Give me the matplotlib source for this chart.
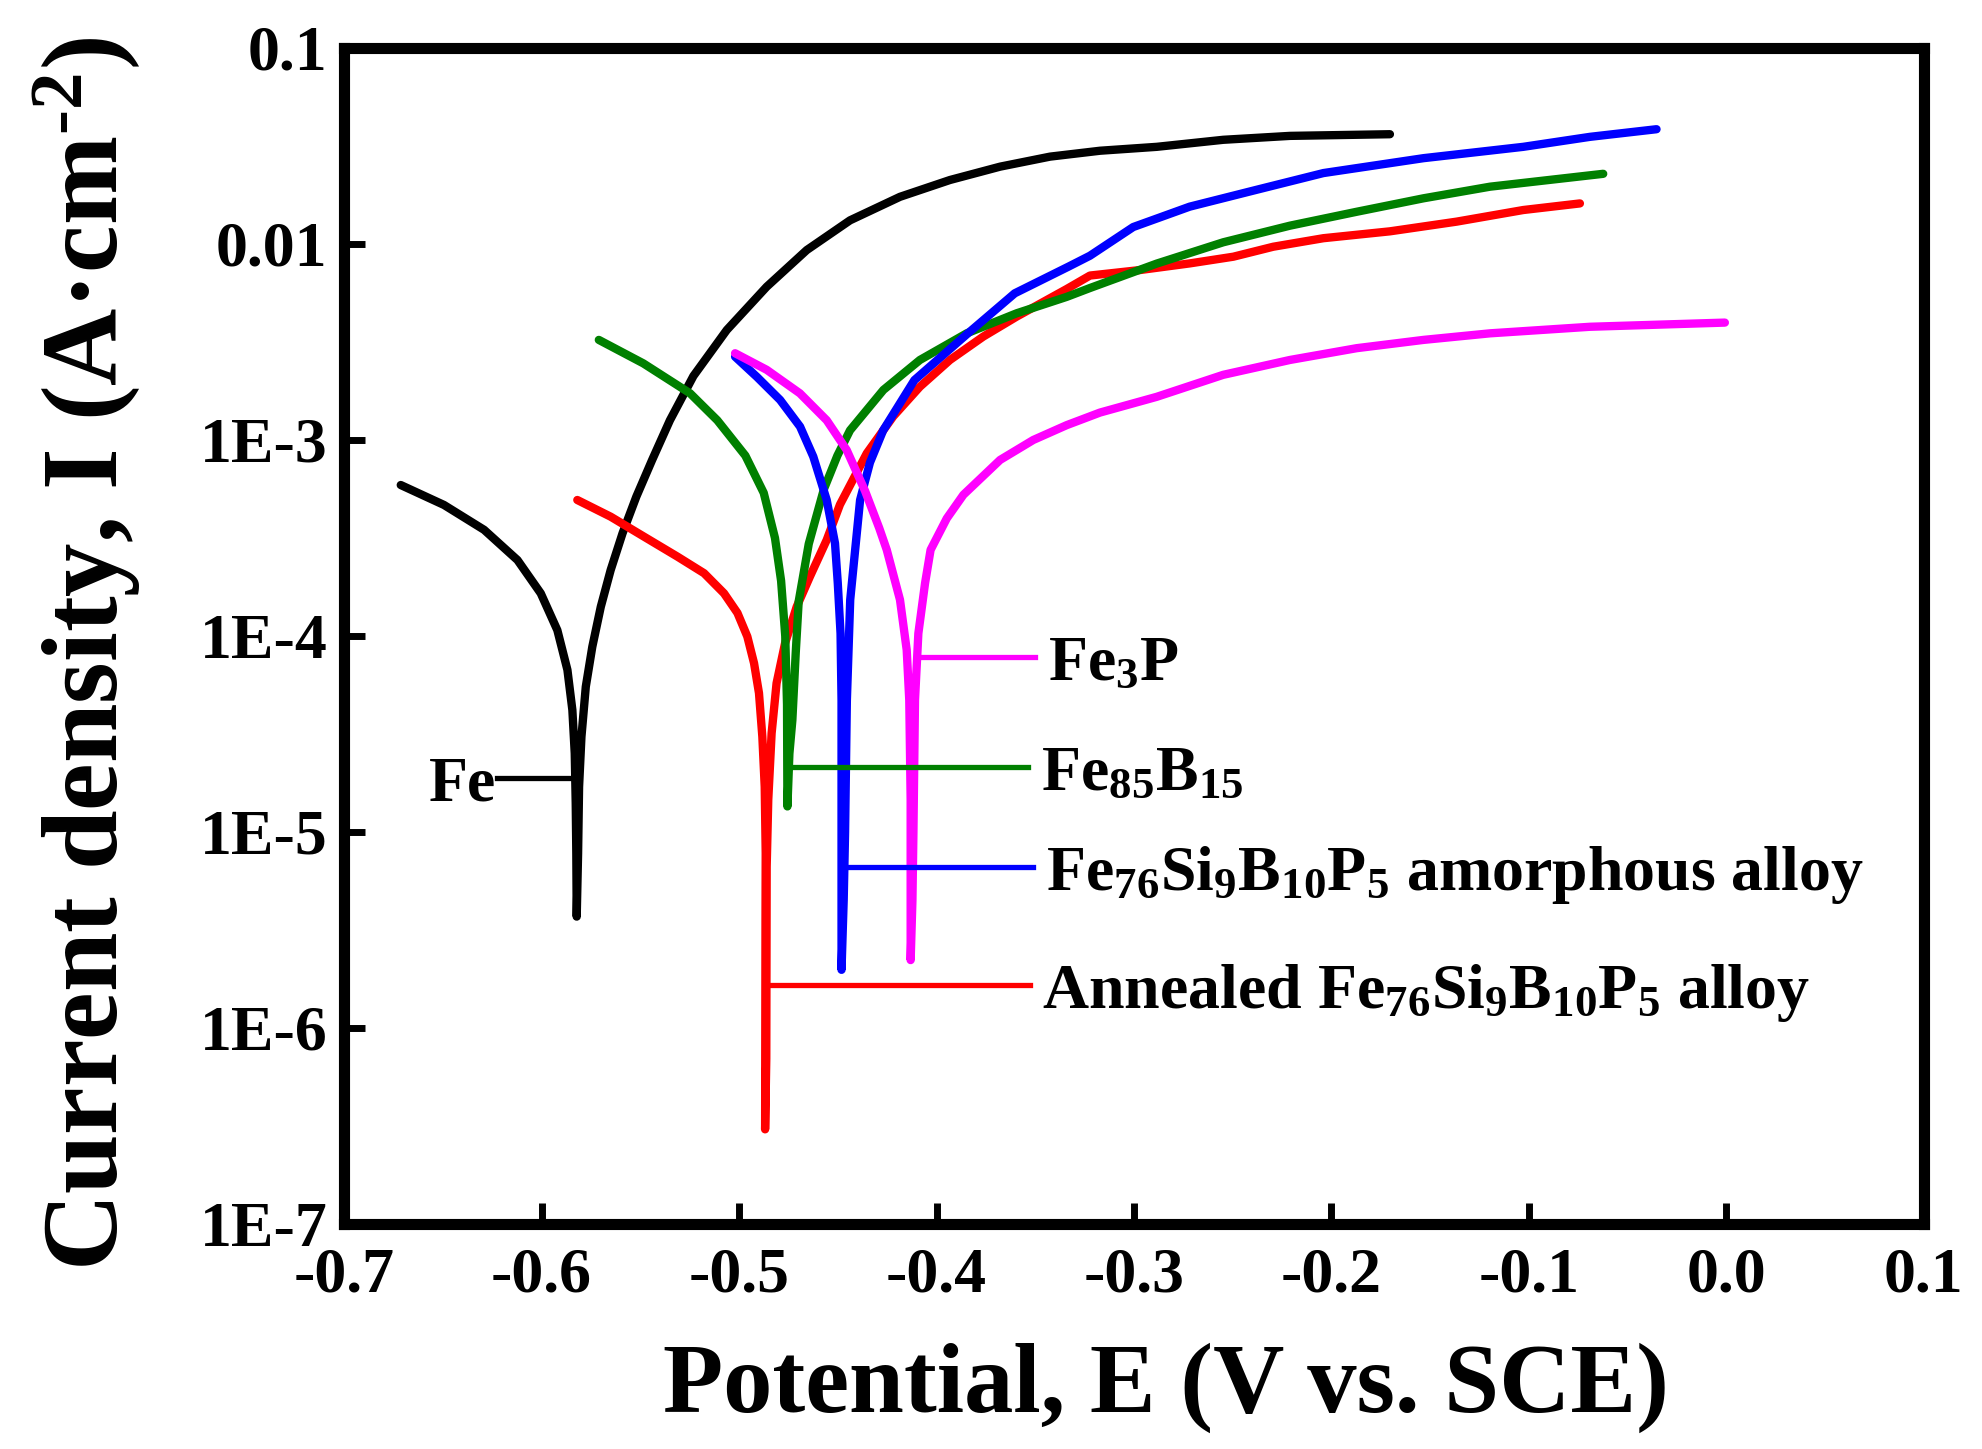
import matplotlib
matplotlib.use("Agg")
import matplotlib.pyplot as plt
from matplotlib.ticker import FixedLocator, FixedFormatter, NullLocator

plt.rcParams['font.family'] = ['Liberation Serif', 'DejaVu Serif']
plt.rcParams['font.weight'] = 'bold'
plt.rcParams['mathtext.fontset'] = 'custom'
plt.rcParams['mathtext.rm'] = 'Liberation Serif:bold'
plt.rcParams['mathtext.it'] = 'Liberation Serif:bold'
plt.rcParams['mathtext.bf'] = 'Liberation Serif:bold'

# Potentiodynamic polarization curves
# potential in V vs. SCE, current density in A/cm^2
fe_e = [-0.6713, -0.6494, -0.6291, -0.6122, -0.6004, -0.592, -0.5869, -0.5844, -0.5832, -0.5827,
        -0.5824, -0.5822,
        -0.5815, -0.581, -0.5798, -0.5776, -0.5743, -0.570, -0.565, -0.559, -0.552, -0.544,
        -0.535, -0.5231, -0.5062, -0.486, -0.4657, -0.4438, -0.4185, -0.3932, -0.3678, -0.3425,
        -0.3172, -0.2885, -0.2548, -0.221, -0.1704]
fe_i = [5.89e-4, 4.66e-4, 3.48e-4, 2.44e-4, 1.65e-4, 1.07e-4, 6.71e-5, 4.19e-5, 2.52e-5, 1.40e-5,
        7.78e-6, 3.70e-6,
        7.78e-6, 1.70e-5, 3.06e-5, 5.51e-5, 8.81e-5, 1.41e-4, 2.17e-4, 3.34e-4, 5.14e-4, 7.91e-4,
        1.26e-3, 2.12e-3, 3.64e-3, 6.05e-3, 9.31e-3, 1.32e-2, 1.74e-2, 2.12e-2, 2.48e-2, 2.79e-2,
        2.99e-2, 3.13e-2, 3.40e-2, 3.56e-2, 3.63e-2]

fe3p_e = [-0.502, -0.486, -0.4692, -0.4556, -0.4455, -0.4362, -0.429, -0.4252, -0.4185, -0.4151,
          -0.4138, -0.4131, -0.4131,
          -0.4122, -0.4117, -0.4109, -0.4092, -0.4058, -0.403, -0.3948, -0.3864, -0.3678, -0.351,
          -0.3341, -0.3172, -0.2885, -0.2548, -0.221, -0.1872, -0.1534, -0.1197, -0.0691, -0.0008]
fe3p_i = [2.77e-3, 2.28e-3, 1.73e-3, 1.26e-3, 8.89e-4, 5.50e-4, 3.55e-4, 2.75e-4, 1.53e-4, 8.49e-5,
          4.71e-5, 1.46e-5, 2.22e-6,
          4.47e-6, 9.84e-6, 4.71e-5, 1.03e-4, 1.86e-4, 2.75e-4, 3.98e-4, 5.25e-4, 7.91e-4, 1.0e-3,
          1.19e-3, 1.38e-3, 1.66e-3, 2.15e-3, 2.56e-3, 2.94e-3, 3.24e-3, 3.50e-3, 3.78e-3, 3.97e-3]

feb_e = [-0.571, -0.5485, -0.5248, -0.511, -0.4968, -0.4875, -0.4818, -0.4787, -0.4766, -0.4757,
         -0.4755,
         -0.4745, -0.473, -0.4713, -0.4698, -0.4647, -0.457, -0.4502, -0.4438, -0.4269, -0.4084,
         -0.3847, -0.3594, -0.3341, -0.3223, -0.2885, -0.2548, -0.221, -0.1872, -0.1534, -0.1197,
         -0.0624]
feb_i = [3.24e-3, 2.46e-3, 1.73e-3, 1.26e-3, 8.32e-4, 5.37e-4, 3.16e-4, 1.91e-4, 1.0e-4, 4.47e-5,
         1.35e-5,
         2.51e-5, 3.72e-5, 8.17e-5, 1.50e-4, 2.95e-4, 5.62e-4, 8.32e-4, 1.12e-3, 1.80e-3, 2.56e-3,
         3.50e-3, 4.43e-3, 5.37e-3, 5.96e-3, 7.94e-3, 1.02e-2, 1.24e-2, 1.46e-2, 1.71e-2, 1.96e-2,
         2.28e-2]

amor_e = [-0.502, -0.491, -0.4792, -0.4691, -0.4624, -0.4556, -0.4514, -0.45, -0.4486, -0.4481,
          -0.4481, -0.4481,
          -0.447, -0.4463, -0.4454, -0.4437, -0.4412, -0.4387, -0.4337, -0.427, -0.4112, -0.3841,
          -0.3604, -0.3332, -0.3223, -0.3004, -0.2718, -0.2379, -0.2041, -0.1534, -0.1029, -0.0691,
          -0.0354]
amor_i = [2.66e-3, 2.10e-3, 1.60e-3, 1.17e-3, 8.22e-4, 4.94e-4, 2.97e-4, 1.86e-4, 1.03e-4, 4.71e-5,
          4.50e-6, 1.98e-6,
          4.50e-6, 1.0e-5, 4.68e-5, 1.53e-4, 2.75e-4, 4.94e-4, 7.67e-4, 1.12e-3, 2.02e-3, 3.50e-3,
          5.60e-3, 7.66e-3, 8.71e-3, 1.22e-2, 1.55e-2, 1.89e-2, 2.30e-2, 2.74e-2, 3.13e-2, 3.52e-2,
          3.85e-2]

ann_e = [-0.5819, -0.565, -0.5481, -0.5312, -0.5177, -0.5076, -0.5008, -0.4958, -0.4924, -0.4899,
         -0.4882, -0.487, -0.4865, -0.4866, -0.4868,
         -0.4862, -0.486, -0.4852, -0.4835, -0.481, -0.4767, -0.4708, -0.4641, -0.4556, -0.4489,
         -0.4353, -0.4219, -0.4084, -0.3932, -0.3763, -0.3594, -0.3341, -0.3223, -0.297, -0.2717,
         -0.2497, -0.2295, -0.2041, -0.1704, -0.1366, -0.1029, -0.0742]
ann_i = [4.94e-4, 4.06e-4, 3.21e-4, 2.54e-4, 2.09e-4, 1.65e-4, 1.31e-4, 9.93e-5, 7.26e-5, 5.11e-5,
         3.06e-5, 1.70e-5, 7.78e-6, 3.56e-6, 3.04e-7,
         6.97e-7, 6.65e-6, 1.46e-5, 3.19e-5, 5.74e-5, 9.18e-5, 1.41e-4, 2.01e-4, 3.09e-4, 4.68e-4,
         8.55e-4, 1.32e-3, 1.87e-3, 2.56e-3, 3.37e-3, 4.26e-3, 5.89e-3, 6.90e-3, 7.36e-3, 7.96e-3,
         8.61e-3, 9.68e-3, 1.07e-2, 1.16e-2, 1.30e-2, 1.49e-2, 1.61e-2]

# label leader lines: start E, end E, current density, text
labels = [
    (-0.6224, -0.5852, 1.88e-5, 'Fe'),
    (-0.4075, -0.3501, 7.85e-5, 'Fe$_{3}$P'),
    (-0.4733, -0.3535, 2.15e-5, 'Fe$_{85}$B$_{15}$'),
    (-0.4458, -0.3510, 6.65e-6, 'Fe$_{76}$Si$_{9}$B$_{10}$P$_{5}$ amorphous alloy'),
    (-0.4839, -0.3527, 1.66e-6, 'Annealed Fe$_{76}$Si$_{9}$B$_{10}$P$_{5}$ alloy'),
]
label_colors = ['black', '#ff00ff', '#008000', '#0000ff', '#ff0000']

x_ticks = [-0.7, -0.6, -0.5, -0.4, -0.3, -0.2, -0.1, 0.0, 0.1]
x_tick_labels = ['-0.7', '-0.6', '-0.5', '-0.4', '-0.3', '-0.2', '-0.1', '0.0', '0.1']
y_ticks = [1e-7, 1e-6, 1e-5, 1e-4, 1e-3, 1e-2, 1e-1]
y_tick_labels = ['1E-7', '1E-6', '1E-5', '1E-4', '1E-3', '0.01', '0.1']

curves = [
    (fe_e, fe_i, 'black'),
    (ann_e, ann_i, '#ff0000'),
    (feb_e, feb_i, '#008000'),
    (amor_e, amor_i, '#0000ff'),
    (fe3p_e, fe3p_i, '#ff00ff'),
]

fig = plt.figure(figsize=(19.82, 14.49), dpi=100)
ax = fig.add_axes([0.1736, 0.1553, 0.7971, 0.8116])

for e, i, c in curves:
    ax.plot(e, i, color=c, lw=6, solid_capstyle='round', solid_joinstyle='round')

for (x0, x1, y, txt), c in zip(labels, label_colors):
    ax.plot([x0, x1], [y, y], color=c, lw=3.8)
    if txt == 'Fe':
        ax.annotate(txt, xy=(x0, y), xytext=(-1, -16), textcoords='offset points',
                    ha='right', va='baseline', fontsize=46, fontweight='bold')
    else:
        ax.annotate(txt, xy=(x1, y), xytext=(9, -17), textcoords='offset points',
                    ha='left', va='baseline', fontsize=46, fontweight='bold')

ax.set_yscale('log')
ax.set_xlim(-0.7, 0.1)
ax.set_ylim(1e-7, 0.1)
ax.xaxis.set_major_locator(FixedLocator(x_ticks))
ax.xaxis.set_major_formatter(FixedFormatter(x_tick_labels))
ax.yaxis.set_major_locator(FixedLocator(y_ticks))
ax.yaxis.set_major_formatter(FixedFormatter(y_tick_labels))
ax.yaxis.set_minor_locator(NullLocator())
ax.xaxis.set_minor_locator(NullLocator())
ax.tick_params(direction='in', length=15, width=5, labelsize=46)
ax.tick_params(axis='x', pad=17)
ax.tick_params(axis='y', pad=12)

for sp in ax.spines.values():
    sp.set_linewidth(8)

ax.set_xlabel('Potential, E (V vs. SCE)', fontsize=71, fontweight='bold')
ax.xaxis.label.set_va('center')
ax.xaxis.set_label_coords(0.52, -0.139)
ax.set_ylabel('Current density, I (A·cm$^{\\text{-}2}$)', fontsize=77, fontweight='bold')
ax.yaxis.label.set_va('center')
ax.yaxis.set_label_coords(-0.163, 0.485)

fig.savefig('out.png', dpi=100)
